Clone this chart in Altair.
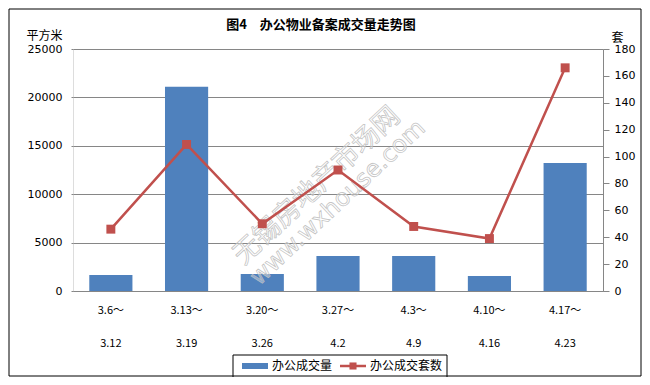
import altair as alt
import pandas as pd

# ---- data ----
period_start = ["3.6～", "3.13～", "3.20～", "3.27～", "4.3～", "4.10～", "4.17～"]
period_end = ["3.12", "3.19", "3.26", "4.2", "4.9", "4.16", "4.23"]
area_sqm = [1650, 21100, 1760, 3620, 3620, 1550, 13220]      # 办公成交量 (平方米)
deal_units = [46, 109, 50, 90, 48, 39, 166]                   # 办公成交套数 (套)
left_ticks = [0, 5000, 10000, 15000, 20000, 25000]
right_ticks = [0, 20, 40, 60, 80, 100, 120, 140, 160, 180]

title_text = "图4　办公物业备案成交量走势图"
series_names = ["办公成交量", "办公成交套数"]
watermark_lines = ["无锡房地产市场网", "www.wxhouse.com"]

BLUE = "#4F81BD"
RED = "#C0504D"
GRID = "#868686"
NUM_FONT = "DejaVu Sans"
CJK_FONT = "Noto Sans CJK SC"

df = pd.DataFrame({
    "period": [a + "|" + b for a, b in zip(period_start, period_end)],
    "area": area_sqm,
    "units": deal_units,
})
order = list(df["period"])

W, H = 530, 242

x_enc = alt.X(
    "period:N", sort=order,
    scale=alt.Scale(paddingInner=0.43, paddingOuter=0.215),
    axis=alt.Axis(
        title=None, labelAngle=0, ticks=False,
        labelExpr="split(datum.label, '|')",
        labelLineHeight=33, labelPadding=13,
        labelFont=CJK_FONT, labelFontSize=11, labelColor="#000000",
        domainColor=GRID, domainWidth=1,
    ),
)

bars = alt.Chart(df).mark_bar(color=BLUE).encode(
    x=x_enc,
    y=alt.Y(
        "area:Q",
        scale=alt.Scale(domain=[0, 25000], nice=False),
        axis=alt.Axis(
            values=left_ticks, format="d", grid=True, gridColor=GRID, gridWidth=1,
            domain=False, tickSize=2, tickColor=GRID,
            labelPadding=9, labelFont=NUM_FONT, labelFontSize=11, labelColor="#000000",
            title="平方米", titleAngle=0, titleX=-29, titleY=-14,
            titleAlign="center", titleBaseline="middle",
            titleFont=CJK_FONT, titleFontSize=12, titleFontWeight="normal", titleColor="#000000",
        ),
    ),
)

y_right = alt.Y(
    "units:Q",
    scale=alt.Scale(domain=[0, 180], nice=False),
    axis=alt.Axis(
        orient="right", values=right_ticks, format="d", grid=False,
        domainColor=GRID, tickColor=GRID, tickSize=6,
        labelPadding=5, labelFont=NUM_FONT, labelFontSize=11, labelColor="#000000",
        title="套", titleAngle=0, titleX=14, titleY=-12,
        titleAlign="center", titleBaseline="middle",
        titleFont=CJK_FONT, titleFontSize=12, titleFontWeight="normal", titleColor="#000000",
    ),
)

line = alt.Chart(df).mark_line(color=RED, strokeWidth=2.5).encode(x=x_enc, y=y_right)
pts = alt.Chart(df).mark_square(size=80, color=RED, opacity=1).encode(x=x_enc, y=y_right)
right = alt.layer(line, pts)

one = pd.DataFrame({"k": [0]})

wm1 = alt.Chart(one).mark_text(
    text=watermark_lines[0], font=CJK_FONT, fontSize=27, angle=317,
    align="center", baseline="middle", fill="white", fillOpacity=0.35,
    stroke="#bdbdbd", strokeWidth=0.8, strokeOpacity=0.9,
).encode(x=alt.value(244), y=alt.value(137))
wm2 = alt.Chart(one).mark_text(
    text=watermark_lines[1], font="DejaVu Sans", fontSize=24, angle=317,
    align="center", baseline="middle", fill="white", fillOpacity=0.35,
    stroke="#bdbdbd", strokeWidth=0.8, strokeOpacity=0.9,
).encode(x=alt.value(265), y=alt.value(154))

title = alt.Chart(one).mark_text(
    text=title_text, font=CJK_FONT, fontSize=13, fontWeight="bold",
    align="center", baseline="middle", color="#000000",
).encode(x=alt.value(248), y=alt.value(-24))

border = alt.Chart(one).mark_rect(
    fill="white", fillOpacity=0, stroke="#000000", strokeWidth=1,
).encode(x=alt.value(-64), x2=alt.value(568), y=alt.value(-40), y2=alt.value(327))

leg_box = alt.Chart(one).mark_rect(
    fill="white", fillOpacity=0, stroke="#000000", strokeWidth=1,
).encode(x=alt.value(160), x2=alt.value(374), y=alt.value(306), y2=alt.value(329))
leg_bar = alt.Chart(one).mark_rect(color=BLUE).encode(
    x=alt.value(169), x2=alt.value(195), y=alt.value(314), y2=alt.value(320))
leg_line = alt.Chart(one).mark_rule(color=RED, strokeWidth=2.5).encode(
    x=alt.value(267), x2=alt.value(293), y=alt.value(317))
leg_pt = alt.Chart(one).mark_square(size=50, color=RED, opacity=1).encode(
    x=alt.value(280), y=alt.value(317))
leg_t1 = alt.Chart(one).mark_text(
    text=series_names[0], font=CJK_FONT, fontSize=12, align="left", baseline="middle", color="#000000",
).encode(x=alt.value(199), y=alt.value(317))
leg_t2 = alt.Chart(one).mark_text(
    text=series_names[1], font=CJK_FONT, fontSize=12, align="left", baseline="middle", color="#000000",
).encode(x=alt.value(297), y=alt.value(317))

chart = alt.layer(
    bars, wm1, wm2, right, title, border, leg_box, leg_bar, leg_line, leg_pt, leg_t1, leg_t2
).resolve_scale(y="independent").properties(
    width=W, height=H,
    autosize="none",
    padding={"left": 65, "top": 41, "right": 39, "bottom": 86},
).configure_view(strokeWidth=0).configure(background="white")

chart.save("out.html", embed_options={"renderer": "svg", "actions": False})
